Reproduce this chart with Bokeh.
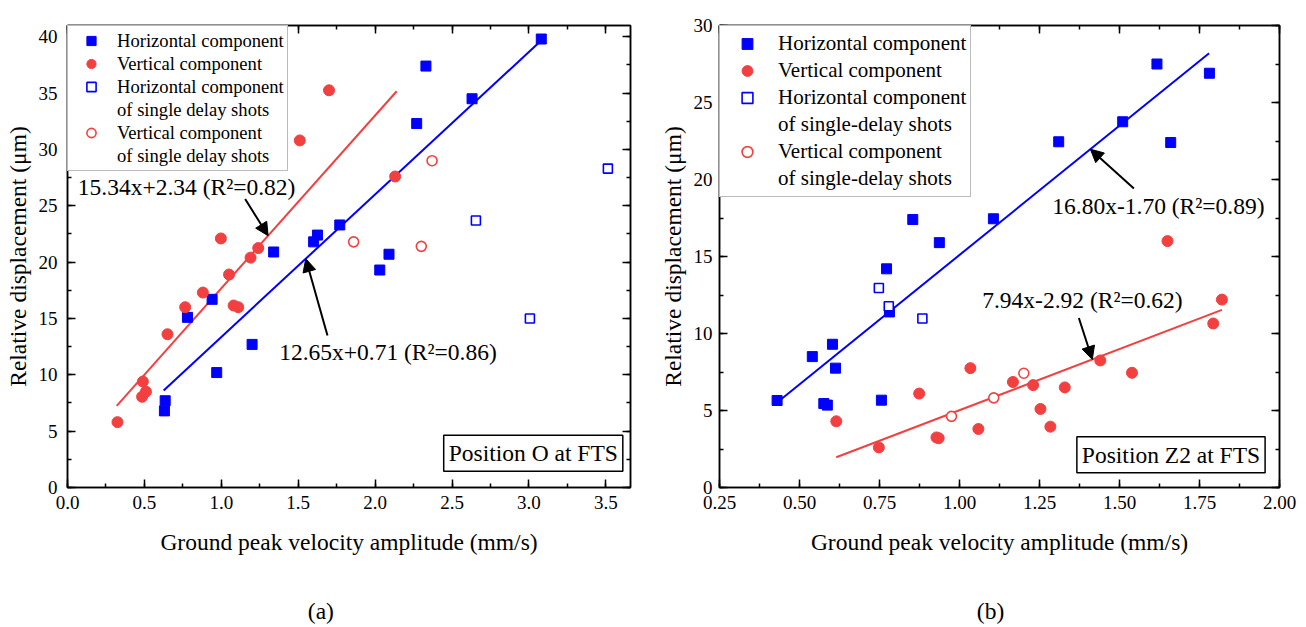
from bokeh.plotting import figure
from bokeh.models import (Range1d, LinearAxis, SingleIntervalTicker, NumeralTickFormatter,
                          Legend, LegendItem, Label, Arrow, NormalHead)
from bokeh.layouts import row, column
from bokeh.embed import file_html
from bokeh.resources import INLINE

# ---------------- data: panel (a) Position O ----------------
a_hor_x = [0.63, 0.635, 0.78, 0.94, 0.97, 1.20, 1.34, 1.60, 1.625, 1.77, 2.03, 2.09, 2.27, 2.33, 2.63, 3.08]
a_hor_y = [6.8, 7.7, 15.1, 16.7, 10.2, 12.7, 20.9, 21.8, 22.4, 23.3, 19.3, 20.7, 32.3, 37.4, 34.5, 39.8]
a_ver_x = [0.325, 0.485, 0.49, 0.51, 0.65, 0.765, 0.88, 0.997, 1.05, 1.08, 1.11, 1.19, 1.24, 1.51, 1.70, 2.13]
a_ver_y = [5.8, 8.05, 9.4, 8.5, 13.6, 16.0, 17.3, 22.1, 18.9, 16.15, 16.0, 20.4, 21.25, 30.8, 35.25, 27.6]
a_hor_single_x = [2.655, 3.006, 3.513]
a_hor_single_y = [23.7, 15.0, 28.3]
a_ver_single_x = [1.86, 2.30, 2.37]
a_ver_single_y = [21.8, 21.4, 29.0]
a_fit_hor = (12.65, 0.71, 0.625, 3.09)   # slope, intercept, x from, x to
a_fit_ver = (15.34, 2.34, 0.32, 2.14)

# ---------------- data: panel (b) Position Z2 ----------------
b_hor_x = [0.43, 0.54, 0.576, 0.587, 0.603, 0.6125, 0.756, 0.772, 0.781, 0.854, 0.937, 1.106, 1.31, 1.51, 1.617, 1.66, 1.781]
b_hor_y = [5.65, 8.5, 5.45, 5.35, 9.3, 7.75, 5.67, 14.2, 11.4, 17.4, 15.9, 17.45, 22.45, 23.75, 27.5, 22.4, 26.9]
b_ver_x = [0.615, 0.748, 0.874, 0.928, 0.935, 1.034, 1.059, 1.167, 1.23, 1.253, 1.284, 1.329, 1.44, 1.539, 1.65, 1.793, 1.82]
b_ver_y = [4.3, 2.6, 6.1, 3.25, 3.2, 7.75, 3.8, 6.85, 6.65, 5.1, 3.95, 6.5, 8.25, 7.45, 16.0, 10.65, 12.2]
b_hor_single_x = [0.748, 0.779, 0.884]
b_hor_single_y = [12.95, 11.77, 10.97]
b_ver_single_x = [0.975, 1.107, 1.201]
b_ver_single_y = [4.62, 5.82, 7.42]
b_fit_hor = (16.80, -1.70, 0.43, 1.78)
b_fit_ver = (7.94, -2.92, 0.615, 1.82)

FONT = "Liberation Serif"
BLUE = "#0000FF"
RED = "#F24040"
BIG = "23.5px"
TAG_H = 40


def style_axis(ax, interval, fmt, labels=True):
    ax.ticker = SingleIntervalTicker(interval=interval, num_minor_ticks=2)
    ax.formatter = NumeralTickFormatter(format=fmt)
    ax.axis_line_color = "black"
    ax.axis_line_width = 1.5
    ax.major_tick_in = 8
    ax.major_tick_out = 0
    ax.minor_tick_in = 4
    ax.minor_tick_out = 0
    ax.major_tick_line_width = 1.5
    ax.minor_tick_line_width = 1.5
    ax.major_tick_line_color = "black"
    ax.minor_tick_line_color = "black"
    ax.major_label_text_font = FONT
    if labels:
        ax.major_label_text_color = "black"
        ax.major_label_text_font_size = "19px"
    else:
        ax.major_label_text_color = None
        ax.major_label_text_font_size = "1px"
        ax.major_label_standoff = 0


def panel(width, height, borders, xr, yr, xint, xfmt, data, fits, legend_cfg,
          ann, pos_text, pos_xy, label_standoffs):
    left, right, top, bottom = borders
    p = figure(width=width, height=height, x_range=Range1d(*xr), y_range=Range1d(*yr),
               output_backend="svg", toolbar_location=None, tools="",
               min_border_left=left, min_border_right=right,
               min_border_top=top, min_border_bottom=bottom,
               x_axis_location="below", y_axis_location="left")
    p.grid.visible = False
    p.outline_line_color = "black"
    p.outline_line_width = 1.5
    p.background_fill_color = "white"
    p.border_fill_color = "white"

    style_axis(p.xaxis[0], xint, xfmt)
    style_axis(p.yaxis[0], 5, "0")
    p.xaxis[0].major_label_standoff = label_standoffs[0]
    p.yaxis[0].major_label_standoff = label_standoffs[1]
    p.xaxis[0].axis_label = "Ground peak velocity amplitude (mm/s)"
    p.yaxis[0].axis_label = "Relative displacement (\u03bcm)"
    for ax in (p.xaxis[0], p.yaxis[0]):
        ax.axis_label_text_font = FONT
        ax.axis_label_text_font_size = BIG
        ax.axis_label_text_font_style = "normal"
        ax.axis_label_text_color = "black"
    p.xaxis[0].axis_label_standoff = label_standoffs[2]
    p.yaxis[0].axis_label_standoff = label_standoffs[3]

    top_ax = LinearAxis()
    style_axis(top_ax, xint, xfmt, labels=False)
    p.add_layout(top_ax, "above")
    right_ax = LinearAxis()
    style_axis(right_ax, 5, "0", labels=False)
    p.add_layout(right_ax, "right")

    hx, hy, vx, vy, hsx, hsy, vsx, vsy = data
    (hs, hb, hx0, hx1), (vs, vb, vx0, vx1) = fits
    p.line([hx0, hx1], [hs * hx0 + hb, hs * hx1 + hb], line_color=BLUE, line_width=2)
    p.line([vx0, vx1], [vs * vx0 + vb, vs * vx1 + vb], line_color=RED, line_width=2)

    r_hf = p.scatter(hx, hy, marker="square", size=10, fill_color=BLUE, line_color=BLUE)
    r_vf = p.scatter(vx, vy, marker="circle", size=11, fill_color=RED, line_color=RED)
    r_ho = p.scatter(hsx, hsy, marker="square", size=9, fill_color="white",
                     line_color=BLUE, line_width=1.6)
    r_vo = p.scatter(vsx, vsy, marker="circle", size=10, fill_color="white",
                     line_color=RED, line_width=1.6)
    r_dummy = p.scatter([], [], marker="circle", size=1, fill_alpha=0, line_alpha=0)

    cont, rowh, pad, gw, stand, fsize = legend_cfg
    items = [
        LegendItem(label="Horizontal component", renderers=[r_hf]),
        LegendItem(label="Vertical component", renderers=[r_vf]),
        LegendItem(label="Horizontal component", renderers=[r_ho]),
        LegendItem(label=cont, renderers=[r_dummy]),
        LegendItem(label="Vertical component", renderers=[r_vo]),
        LegendItem(label=cont, renderers=[r_dummy]),
    ]
    leg = Legend(items=items, location="top_left", margin=0, padding=pad, spacing=0,
                 glyph_width=gw, glyph_height=rowh, label_height=rowh, label_standoff=stand,
                 label_text_font=FONT, label_text_font_size=fsize, label_text_color="black",
                 border_line_color="#7a7a7a", border_line_width=1,
                 background_fill_color="white", background_fill_alpha=1)
    p.add_layout(leg)

    for (text, tx, ty, sx, sy, fit, tipx) in ann:
        s, b = fit
        p.add_layout(Label(x=tx, y=ty, text=text, text_font=FONT, text_font_size=BIG,
                           text_align="left", text_baseline="middle", text_color="black"))
        p.add_layout(Arrow(x_start=sx, y_start=sy, x_end=tipx, y_end=s * tipx + b,
                           line_color="black", line_width=2,
                           end=NormalHead(size=13, fill_color="black", line_color="black")))

    p.add_layout(Label(x=pos_xy[0], y=pos_xy[1], text=pos_text, text_font=FONT,
                       text_font_size=BIG, text_align="right", text_baseline="bottom",
                       text_color="black", padding=5, border_line_color="black",
                       border_line_width=1.5, background_fill_color="white"))
    return p


def tag_panel(width, left, right, xr, tag, tag_x):
    t = figure(width=width, height=TAG_H, x_range=Range1d(*xr), y_range=Range1d(0, 1),
               output_backend="svg", toolbar_location=None, tools="",
               min_border_left=left, min_border_right=right,
               min_border_top=0, min_border_bottom=0,
               x_axis_location=None, y_axis_location=None)
    t.grid.visible = False
    t.outline_line_color = None
    t.background_fill_color = "white"
    t.border_fill_color = "white"
    t.add_layout(Label(x=tag_x, y=0.42, text=tag, text_font=FONT, text_font_size=BIG,
                       text_color="black", text_align="center", text_baseline="middle"))
    return t


pa = panel(651, 627 - TAG_H, (67, 21, 14, 100), (0, 3.66), (0, 41), 0.5, "0.0",
           (a_hor_x, a_hor_y, a_ver_x, a_ver_y, a_hor_single_x, a_hor_single_y,
            a_ver_single_x, a_ver_single_y),
           (a_fit_hor, a_fit_ver),
           ("of single delay shots", 23, 3, 40, 6, "18.6px"),
           [("15.34x+2.34 (R\u00b2=0.82)", 0.067, 26.65, 1.155, 25.6, a_fit_ver[:2], 1.304),
            ("12.65x+0.71 (R\u00b2=0.86)", 1.376, 12.04, 1.69, 13.48, a_fit_hor[:2], 1.549)],
           "Position O at FTS", (3.61, 1.45), (8, 10, 17, 5))

pb = panel(655, 627 - TAG_H, (68, 27, 25, 98), (0.25, 2.0), (0, 30), 0.25, "0.00",
           (b_hor_x, b_hor_y, b_ver_x, b_ver_y, b_hor_single_x, b_hor_single_y,
            b_ver_single_x, b_ver_single_y),
           (b_fit_hor, b_fit_ver),
           ("of single-delay shots", 27, 4, 46, 8, "21px"),
           [("16.80x-1.70 (R\u00b2=0.89)", 1.29, 18.27, 1.545, 19.42, b_fit_hor[:2], 1.409),
            ("7.94x-2.92 (R\u00b2=0.62)", 1.071, 12.2, 1.373, 11.01, b_fit_ver[:2], 1.415)],
           "Position Z2 at FTS", (1.955, 0.95), (8, 7, 17, 5))

ta = tag_panel(651, 67, 21, (0, 3.66), "(a)", 1.647)
tb = tag_panel(655, 68, 27, (0.25, 2.0), "(b)", 1.097)

layout = column(row(pa, pb), row(ta, tb))
open("out.html", "w").write(file_html(layout, INLINE))
